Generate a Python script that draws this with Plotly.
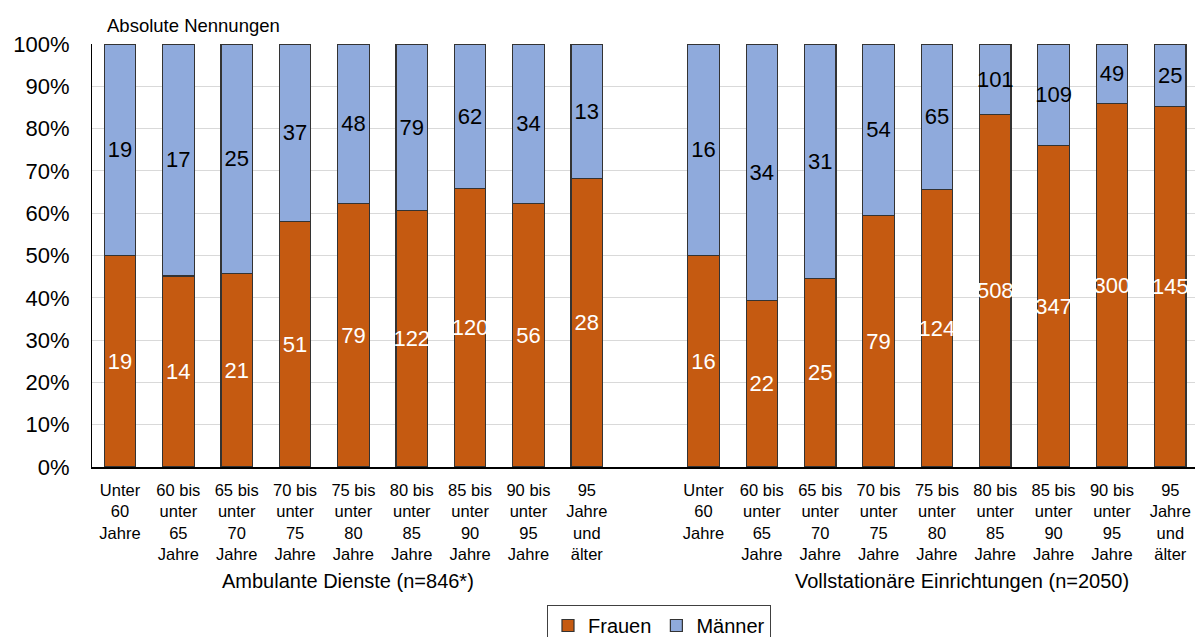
import plotly.graph_objects as go

age_labels = [
    "Unter<br>60<br>Jahre",
    "60 bis<br>unter<br>65<br>Jahre",
    "65 bis<br>unter<br>70<br>Jahre",
    "70 bis<br>unter<br>75<br>Jahre",
    "75 bis<br>unter<br>80<br>Jahre",
    "80 bis<br>unter<br>85<br>Jahre",
    "85 bis<br>unter<br>90<br>Jahre",
    "90 bis<br>unter<br>95<br>Jahre",
    "95<br>Jahre<br>und<br>älter",
]
groups = ["Ambulante Dienste (n=846*)", "Vollstationäre Einrichtungen (n=2050)"]

frauen_amb = [19, 14, 21, 51, 79, 122, 120, 56, 28]
maenner_amb = [19, 17, 25, 37, 48, 79, 62, 34, 13]
frauen_stat = [16, 22, 25, 79, 124, 508, 347, 300, 145]
maenner_stat = [16, 34, 31, 54, 65, 101, 109, 49, 25]

GAP = 1  # one empty category slot between the groups
x1 = list(range(len(age_labels)))
x2 = [len(age_labels) + GAP + i for i in range(len(age_labels))]
xs = x1 + x2

frauen = frauen_amb + frauen_stat
maenner = maenner_amb + maenner_stat

C_F = "#C55A11"
C_M = "#8FAADC"
EDGE = "#333333"
FONT = "Liberation Sans, Arial, sans-serif"

SLOT = 58.35
W, H = 1195, 637
L, T = 92, 44
B = H - 467
pw = W - L
ph = H - T - B

fig = go.Figure()
fig.add_trace(go.Bar(
    x=xs, y=frauen, name="Frauen", marker=dict(color=C_F, line=dict(color=EDGE, width=1.2)),
    text=[str(v) for v in frauen], textposition="inside", insidetextanchor="middle", textangle=0,
    textfont=dict(color="white", size=22, family=FONT), constraintext="none",
    width=0.54, hoverinfo="skip",
))
fig.add_trace(go.Bar(
    x=xs, y=maenner, name="Männer", marker=dict(color=C_M, line=dict(color=EDGE, width=1.2)),
    text=[str(v) for v in maenner], textposition="inside", insidetextanchor="middle", textangle=0,
    textfont=dict(color="black", size=22, family=FONT), constraintext="none",
    width=0.54, hoverinfo="skip",
))

def py(screen_y):
    return (467 - screen_y) / ph

def px(screen_x):
    return (screen_x - L) / pw

fig.update_layout(
    barmode="stack", barnorm="percent",
    width=W, height=H,
    margin=dict(l=L, r=0, t=T, b=B, autoexpand=False),
    paper_bgcolor="white", plot_bgcolor="white",
    font=dict(family=FONT, color="black"),
    showlegend=True,
    legend=dict(orientation="h", x=px(659), xref="paper", xanchor="center",
                y=py(605), yanchor="top",
                bordercolor="#404040", borderwidth=1, font=dict(size=20, family=FONT),
                traceorder="normal", itemwidth=30),
    xaxis=dict(
        range=[-0.48, -0.48 + pw / SLOT],
        tickmode="array", tickvals=xs, ticktext=age_labels + age_labels,
        tickangle=0, tickfont=dict(size=16.5, family=FONT), ticklabelstandoff=7,
        showgrid=False, showline=True, linecolor="black", linewidth=2,
        ticks="", zeroline=False, automargin=False,
    ),
    yaxis=dict(
        range=[0, 100], tickmode="array", tickvals=list(range(0, 101, 10)),
        ticktext=[f"{v}%" for v in range(0, 101, 10)], tickfont=dict(size=22, family=FONT),
        showgrid=True, gridcolor="#d9d9d9", gridwidth=1, ticklabelstandoff=17,
        showline=True, linecolor="black", linewidth=1, ticks="", zeroline=False, automargin=False,
    ),
)

fig.add_annotation(text="Absolute Nennungen", xref="paper", yref="paper",
                   x=px(105), y=py(25), xanchor="left", yanchor="middle",
                   showarrow=False, font=dict(size=18.5, family=FONT))
centers = [sum(x1) / len(x1) - 0.09, sum(x2) / len(x2) + 0.43]
for g, c in zip(groups, centers):
    fig.add_annotation(text=g, xref="x", yref="paper", x=c, y=py(581),
                       xanchor="center", yanchor="middle", showarrow=False,
                       font=dict(size=20, family=FONT))

fig.write_html(
    "out.html",
    config={"displayModeBar": False, "staticPlot": True},
    post_script="document.body.style.margin='0';document.body.style.overflow='hidden';",
)
